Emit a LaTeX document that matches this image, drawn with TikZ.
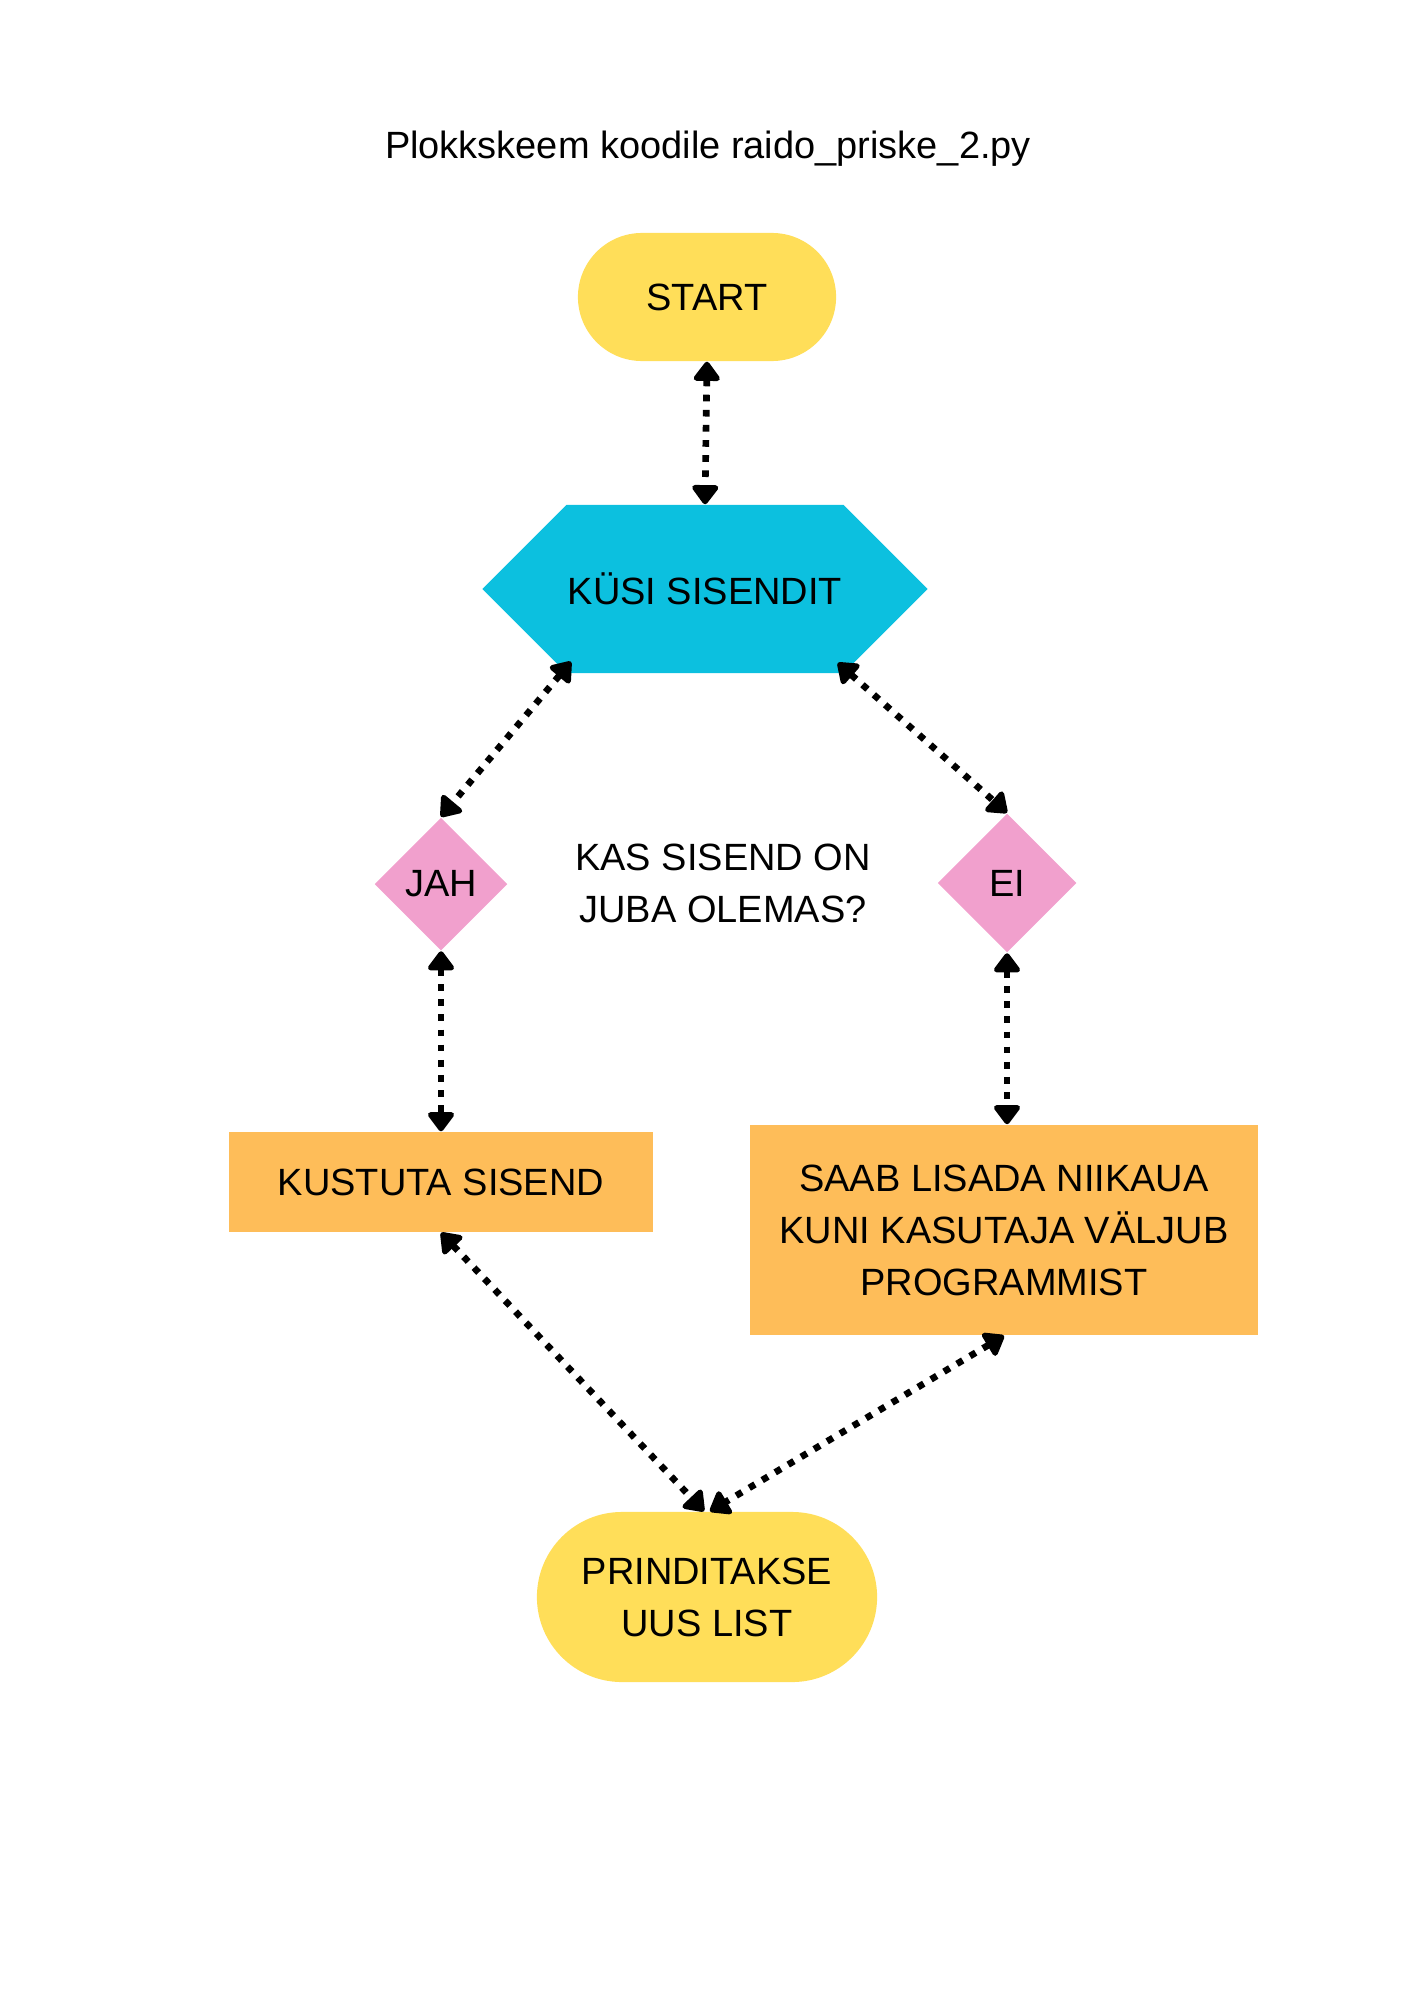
\documentclass[tikz,border=0pt]{standalone}
\usepackage{fontspec}
\setmainfont{Liberation Sans}
\usetikzlibrary{arrows.meta,shapes.geometric,shapes.symbols}
\definecolor{startyellow}{HTML}{FFDE59}
\definecolor{kusicyan}{HTML}{0CC0DF}
\definecolor{valikpink}{HTML}{F1A0CD}
\definecolor{kastorange}{HTML}{FEBD59}

\begin{document}
\begin{tikzpicture}[x=0.01cm, y=-0.01cm, >={Triangle[round,length=6pt,width=8.5pt]},
    font=\fontsize{10.8}{14.8}\selectfont,
    noole/.style={<->, line width=1.9pt, dash pattern=on 1.9pt off 2.4pt},
    otsad/.style={rectangle, fill=startyellow, align=center, inner sep=0pt},
    valik/.style={diamond, fill=valikpink, inner sep=0pt, aspect=1},
    kast/.style={rectangle, fill=kastorange, align=center, inner sep=0pt}]
    \useasboundingbox (0, 0) rectangle (1414, 2000);
    \node (pealkiri) at (708, 149) {Plokkskeem koodile raido\_priske\_2.py};
    \node[otsad, minimum width=2.58cm, minimum height=1.28cm, rounded corners=6.4mm] (start) at (707, 297) {START};
    \node[signal, signal to=west and east, signal pointer angle=90, fill=kusicyan, inner sep=0pt, minimum width=4.45cm, minimum height=1.68cm] (kusi) at (705, 589) {K\"USI SISENDIT};
    \node[valik, minimum size=1.33cm] (jah) at (441, 884) {JAH};
    \node[valik, minimum size=1.39cm] (ei) at (1007, 883) {EI};
    \node[align=center] (kysimus) at (723, 883) {KAS SISEND ON\\JUBA OLEMAS?};
    \node[kast, minimum width=4.24cm, minimum height=1.00cm] (kustuta) at (441, 1182) {KUSTUTA SISEND};
    \node[kast, minimum width=5.08cm, minimum height=2.10cm] (lisa) at (1004, 1230) {SAAB LISADA NIIKAUA\\KUNI KASUTAJA V\"ALJUB\\PROGRAMMIST};
    \node[otsad, minimum width=3.40cm, minimum height=1.70cm, rounded corners=8.5mm] (prindi) at (707, 1597) {PRINDITAKSE\\UUS LIST};
    \draw[noole] (start.south) -- (kusi.north);
    \draw[noole, shorten <=-1.2mm] (kusi.-150) -- (jah.north);
    \draw[noole, shorten <=-1.2mm] (kusi.-30) -- (ei.north);
    \draw[noole] (jah.south) -- (kustuta.north);
    \draw[noole] (ei.south) -- (ei.south |- lisa.north);
    \draw[noole] (kustuta.south) -- ([xshift=-0.03cm]prindi.north);
    \draw[noole] (lisa.south) -- ([xshift=0.03cm]prindi.north);
\end{tikzpicture}
\end{document}
